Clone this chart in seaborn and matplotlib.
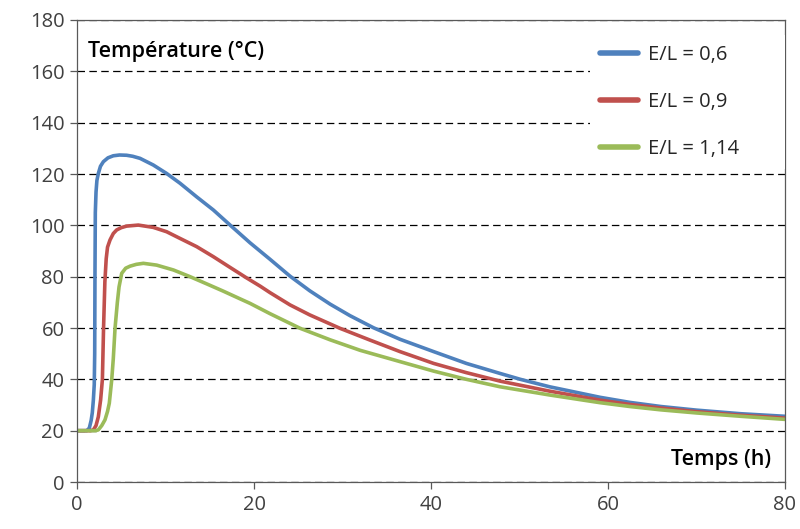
import pandas as pd
import numpy as np
import matplotlib
matplotlib.use("Agg")
import matplotlib.pyplot as plt
import seaborn as sns

# ==========================================================
# Data
# ==========================================================

labels = ["E/L = 0,6", "E/L = 0,9", "E/L = 1,14"]
colors = ["#4F81BD", "#C0504D", "#9BBB59"]

x_06 = [0, 1.1, 1.39, 1.6, 1.73, 1.85, 1.95, 2.0, 2.03, 2.07, 2.15, 2.25, 2.41,
        2.65, 2.98, 3.5, 4.1, 4.8, 5.61, 6.3, 7.12, 8.62, 10.13, 11.64, 13.52,
        15.4, 17.3, 19.55, 21.8, 24.07, 26.3, 28.6, 30.85, 33.5, 36.5, 40.3,
        44.0, 47.8, 50.1, 53.4, 59.1, 62.5, 66, 70, 75, 80]
y_06 = [20, 20, 21, 24, 27, 32, 38, 50, 80, 105, 113, 117.5, 120.2,
        123, 124.8, 126.3, 127.1, 127.4, 127.3, 126.9, 126.1, 123.5, 120.2, 116.4, 111.1,
        106, 100.1, 93.2, 86.8, 80.2, 74.5, 69.3, 64.8, 60.1, 55.6, 50.8,
        46.2, 42.3, 40.0, 37.1, 33.0, 31.0, 29.4, 28.0, 26.6, 25.6]

x_09 = [0, 1.5, 1.85, 2.15, 2.41, 2.67, 2.87, 3.0, 3.15, 3.3, 3.45, 3.73, 4.1,
        4.48, 5.0, 5.6, 6.93, 8.62, 10.13, 11.64, 13.52, 15.4, 17.3, 19.17,
        20.7, 21.8, 24.07, 26.3, 29.7, 33.1, 36.5, 40.3, 44.0, 47.8, 53.4,
        59.1, 62.5, 66, 70, 75, 80]
y_09 = [20, 20, 20.3, 22, 25.4, 32, 40, 60, 78, 87, 91.5, 94.3, 96.8,
        98.2, 99.1, 99.7, 100.1, 99.2, 97.5, 94.9, 91.7, 87.8, 83.6, 79.5,
        76.3, 73.8, 69, 65.1, 59.9, 55.3, 50.8, 46.2, 42.6, 39.3, 35.4,
        31.9, 30.2, 28.8, 27.4, 26.0, 24.9]

x_114 = [0, 2.1, 2.41, 2.8, 3.16, 3.45, 3.65, 3.92, 4.1, 4.3, 4.56, 4.75, 5.05,
         5.5, 6.0, 6.7, 7.5, 9.0, 10.9, 12.77, 14.65, 16.5, 18.4, 19.55, 21.8,
         25.2, 28.6, 32.0, 36.5, 40.3, 44.0, 47.8, 53.4, 59.1, 62.5, 66, 70, 75, 80]
y_114 = [20, 20, 20.3, 22, 24.2, 27.5, 30.7, 39.7, 48, 60, 70, 76, 81.3,
         83.3, 84.1, 84.8, 85.2, 84.5, 82.6, 80.0, 77.2, 74.4, 71.4, 69.6, 65.6,
         59.9, 55.4, 51.3, 46.9, 43.2, 40.0, 37.1, 33.9, 30.9, 29.4, 28.1, 26.9, 25.6, 24.4]

x_ticks = [0, 20, 40, 60, 80]
y_ticks = [0, 20, 40, 60, 80, 100, 120, 140, 160, 180]

# ==========================================================
# Build long-form table
# ==========================================================

frames = []
for lab, xs, ys in zip(labels, [x_06, x_09, x_114], [y_06, y_09, y_114]):
    frames.append(pd.DataFrame({"Temps": xs, "Temperature": ys, "serie": lab}))
data = pd.concat(frames, ignore_index=True)

# ==========================================================
# Plot
# ==========================================================

sns.set_style("white")
plt.rcParams["font.family"] = ["Open Sans", "DejaVu Sans"]

fig = plt.figure(figsize=(8, 5.29), dpi=100)
ax = fig.add_axes([77 / 800, 47 / 529, 708 / 800, 462 / 529])

sns.lineplot(data=data, x="Temps", y="Temperature", hue="serie",
             palette=colors, estimator=None, sort=False,
             linewidth=2.6, ax=ax)
for line in ax.get_lines():
    line.set_solid_joinstyle("round")
    line.set_solid_capstyle("round")

ax.set_xlim(0, 80)
ax.set_ylim(0, 180)
ax.set_xticks(x_ticks)
ax.set_yticks(y_ticks)
ax.set_xlabel("")
ax.set_ylabel("")

ax.yaxis.grid(True, color="black", linestyle=(0, (6, 3.5)), linewidth=0.9)
ax.xaxis.grid(False)
ax.set_axisbelow(True)

for sp in ax.spines.values():
    sp.set_visible(True)
    sp.set_color("#595959")
    sp.set_linewidth(0.9)

ax.tick_params(axis="both", which="major", direction="out", length=5,
               width=0.9, color="#595959", labelsize=14.5, labelcolor="#404040",
               pad=4, left=True, bottom=True)

ax.text(0.0155, 0.932, "Température (°C)", transform=ax.transAxes,
        fontsize=15.5, fontweight="semibold", color="black",
        ha="left", va="center")
ax.text(0.980, 0.048, "Temps (h)", transform=ax.transAxes,
        fontsize=15.5, fontweight="semibold", color="black",
        ha="right", va="center")

leg = ax.legend(loc="upper left", bbox_to_anchor=(0.7246, 0.8675, 0.2754, 0.1),
                mode="expand", fontsize=14.5, frameon=True, facecolor="white",
                edgecolor="none", framealpha=1, handlelength=1.89,
                handletextpad=0.5, labelspacing=1.34, borderpad=0.5,
                borderaxespad=0, fancybox=False)
for line in leg.get_lines():
    line.set_linewidth(4)

plt.savefig("out.png", dpi=100)
